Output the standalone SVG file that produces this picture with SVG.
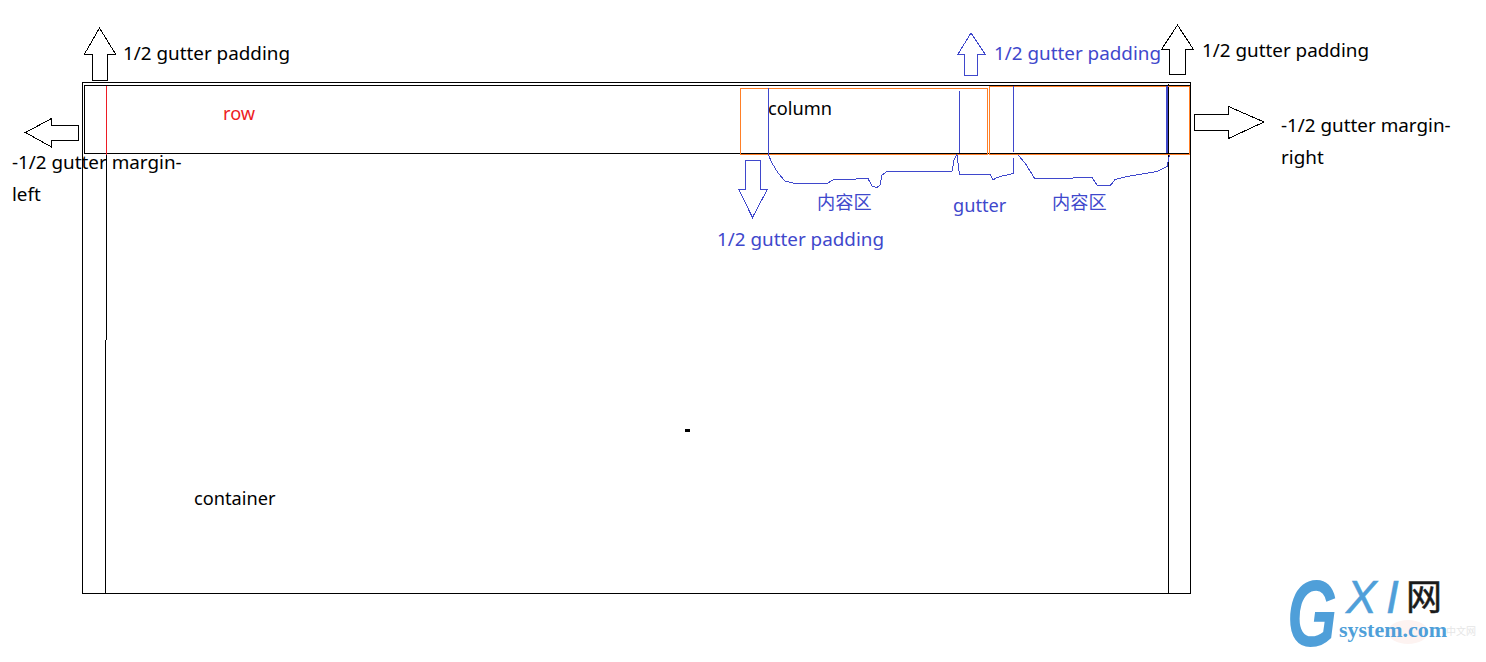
<svg xmlns="http://www.w3.org/2000/svg" width="1486" height="662" viewBox="0 0 1486 662">
<style>
.t{font-family:"Noto Sans","Noto Sans CJK SC",sans-serif;font-size:18.85px;fill:#000}
.s{font-size:18.2px}
.b{fill:#3f48cc}
.r{fill:#ed1c24}
.box{fill:none;stroke:#000;stroke-width:1;shape-rendering:crispEdges}
.or{fill:none;stroke:#ff7f27;stroke-width:1;shape-rendering:crispEdges}
.bl{fill:none;stroke:#3f48cc;stroke-width:1;shape-rendering:crispEdges}
.ab{fill:#fff;stroke:#000;stroke-width:1;shape-rendering:crispEdges}
.abb{fill:#fff;stroke:#3f48cc;stroke-width:1;shape-rendering:crispEdges}
</style>
<rect width="1486" height="662" fill="#fff"/>
<g id="container"><rect class="box" x="82.5" y="82.5" width="1108" height="511"/><text class="t s" x="194" y="505">container</text></g>
<g id="row"><rect class="box" x="84.5" y="85.5" width="1106" height="68"/><text class="t s r" x="223" y="120">row</text></g>
<g id="columns">
<path class="box" d="M105.5 340V593.5M1168.5 84V594"/>
<path d="M106.5 85V340" fill="none" stroke="#000"/>
<path d="M106.5 86V155" fill="none" stroke="#ed1c24"/>
<rect class="or" x="740.5" y="88.5" width="247" height="66"/>
<rect class="or" x="989.5" y="86.5" width="200" height="68"/>
<text class="t s" x="768" y="115">column</text>
</g>
<g id="connectors">
<path class="bl" d="M768.5 88V155L772 163 778 173 785 181 795 183.5H827L833 180 868 178.5 872 186 877 187.5 880 185 882 175 887 171.5H952L954 160 957 154.5 959.5 175 990 174.5 993 180 997 177.5 1002 176 1010 174.5 1013.5 173V158"/>
<path class="bl" d="M959.5 91V153M1013.5 86V152"/>
<path class="bl" d="M1018 155L1025 163 1035 179 1092 177.5 1097 185 1110 186 1115 179.5 1127 176.5 1157 171.5 1167 166.5 1169.5 155"/>
<path d="M1167 86V153" fill="none" stroke="#3f48cc" stroke-width="2"/>
</g>
<g id="arrow-top-left"><path class="ab" d="M99.5 28L84.5 54H92.5V80.5H107.5V54H115.5Z"/><text class="t" x="123" y="60">1/2 gutter padding</text></g>
<g id="arrow-left"><path class="ab" d="M25.5 132.5L51.5 118.5V125.5H78.5V140H51.5V147Z"/><text class="t" x="12" y="169">-1/2 gutter margin-</text><text class="t" x="12" y="201">left</text></g>
<g id="arrow-top-blue"><path class="abb" d="M971 33L958 54H964.5V75.5H977.5V54H985Z"/><text class="t b" x="994" y="60">1/2 gutter padding</text></g>
<g id="arrow-top-right"><path class="ab" d="M1177.5 25L1161.5 49.5H1169.5V74.5H1185.5V49.5H1193.5Z"/><text class="t" x="1202" y="57">1/2 gutter padding</text></g>
<g id="arrow-right"><path class="ab" d="M1194.5 114.5H1228.5V106.5L1264 122 1228.5 138.5V130.5H1194.5Z"/><text class="t" x="1281" y="132">-1/2 gutter margin-</text><text class="t" x="1281" y="164">right</text></g>
<g id="arrow-down"><path class="abb" d="M745.5 160.5H760.5V189H767.5L752.5 217.5 738.5 189H745.5Z"/><text class="t b" x="717" y="246">1/2 gutter padding</text></g>
<g id="labels"><text class="t s b" x="817" y="209">内容区</text><text class="t s b" x="953" y="212">gutter</text><text class="t s b" x="1052" y="209">内容区</text></g>
<rect x="685" y="429" width="5" height="3" fill="#000"/>
<g id="watermark">
<ellipse cx="1408" cy="632" rx="20" ry="12" fill="#fdf3f1"/>
<text x="1461" y="635" font-family="Noto Sans CJK SC,sans-serif" font-size="10" fill="#e6e6e6" text-anchor="middle">中文网</text>
<text transform="translate(1287 646) scale(.68 1)" font-family="Liberation Sans,sans-serif" font-style="italic" font-weight="bold" font-size="95" fill="#4f9fd9">G</text>
<text x="1346" y="613" font-family="Liberation Sans,sans-serif" font-style="italic" font-size="46" fill="#4f9fd9" stroke="#4f9fd9" stroke-width=".5">X</text>
<text x="1386" y="613" font-family="Liberation Sans,sans-serif" font-style="italic" font-size="46" fill="#4f9fd9" stroke="#4f9fd9" stroke-width=".5">I</text>
<text x="1406" y="610" font-family="Noto Sans CJK SC,sans-serif" font-size="36" fill="#1a1a1a" stroke="#1a1a1a" stroke-width=".5">网</text>
<text x="1339" y="637" font-family="Liberation Serif,serif" font-weight="bold" font-size="22" fill="#4f9fd9">system.com</text>
</g>
</svg>
